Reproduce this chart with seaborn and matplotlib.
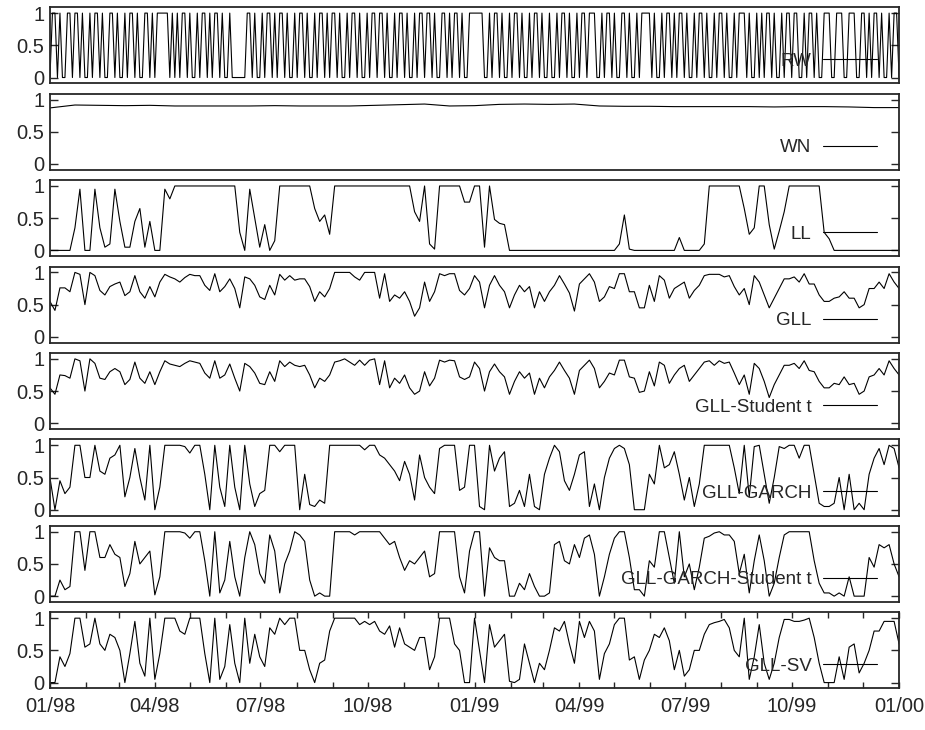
import numpy as np
import pandas as pd
import seaborn as sns
import matplotlib
matplotlib.use("Agg")
import matplotlib.pyplot as plt
import matplotlib.dates as mdates

rw_bits = ("0110100110110100101101001101001011010011010111110"
           "10101101001011010110100100000011010010110101101001"
           "01101001011010110100101101001011011010010110100101"
           "10110100110101101001111110010110100101101001011010"
           "01001011010010110111001011010011010010111101001011"
           "01011010010110100101101001011101001010110100101101"
           "100101101001110011100111001101011010010110")
rw = [int(c) for c in rw_bits]

wn = [0.87, 0.915, 0.91, 0.905, 0.91, 0.9, 0.9, 0.9, 0.9, 0.905,
      0.9, 0.9, 0.9, 0.91, 0.92, 0.93, 0.9, 0.905, 0.925, 0.93,
      0.925, 0.93, 0.9, 0.895, 0.895, 0.89, 0.89, 0.89, 0.89, 0.885,
      0.89, 0.89, 0.885, 0.875, 0.875]

ll = [0, 0, 0, 0, 0, 0.35, 0.95, 0, 0, 0.95,
      0.35, 0.05, 0.1, 0.95, 0.45, 0.05, 0.05, 0.45, 0.65, 0.05,
      0.45, 0, 0, 0.95, 0.8, 1, 1, 1, 1, 1,
      1, 1, 1, 1, 1, 1, 1, 1, 0.28, 0,
      0.95, 0.5, 0.05, 0.4, 0, 0.15, 1, 1, 1, 1,
      1, 1, 1, 0.65, 0.45, 0.55, 0.25, 1, 1, 1,
      1, 1, 1, 1, 1, 1, 1, 1, 1, 1,
      1, 1, 1, 0.6, 0.45, 1, 0.1, 0.02, 1, 1,
      1, 1, 1, 0.75, 0.75, 1, 1, 0.05, 1, 0.48,
      0.42, 0.4, 0, 0, 0, 0, 0, 0, 0, 0,
      0, 0, 0, 0, 0, 0, 0, 0, 0, 0,
      0, 0, 0, 0, 0.1, 0.55, 0.02, 0, 0, 0,
      0, 0, 0, 0, 0, 0, 0.2, 0, 0, 0,
      0, 0.1, 1, 1, 1, 1, 1, 1, 1, 0.65,
      0.25, 0.35, 1, 1, 0.4, 0.02, 0.3, 0.6, 1, 1,
      1, 1, 1, 1, 1, 0.28, 0.18, 0, 0, 0,
      0, 0, 0, 0, 0, 0, 0, 0, 0, 0,
      0]

gll = [0.55, 0.41, 0.76, 0.76, 0.7, 1.0, 0.97, 0.5, 1.0, 0.95,
       0.72, 0.65, 0.78, 0.82, 0.85, 0.64, 0.7, 0.95, 0.7, 0.6,
       0.78, 0.62, 0.85, 0.97, 0.93, 0.9, 0.85, 0.92, 0.97, 0.95,
       0.95, 0.8, 0.72, 0.98, 0.7, 0.78, 0.9, 0.75, 0.45, 0.93,
       0.9, 0.8, 0.62, 0.58, 0.8, 0.65, 0.97, 0.88, 0.95, 0.88,
       0.9, 0.9, 0.78, 0.55, 0.7, 0.62, 0.75, 1.0, 1.0, 1.0,
       1.0, 0.93, 0.88, 1.0, 1.0, 1.0, 0.6, 0.98, 0.55, 0.65,
       0.6, 0.7, 0.55, 0.32, 0.45, 0.85, 0.55, 0.7, 0.98, 0.95,
       0.98, 0.98, 0.72, 0.65, 0.75, 0.95, 0.85, 0.45, 0.8, 0.95,
       0.8, 0.7, 0.45, 0.65, 0.8, 0.7, 0.78, 0.45, 0.7, 0.55,
       0.7, 0.8, 0.95, 0.82, 0.68, 0.4, 0.82, 0.9, 0.98, 0.85,
       0.55, 0.62, 0.78, 0.75, 0.98, 0.98, 0.7, 0.7, 0.45, 0.45,
       0.8, 0.55, 0.95, 0.88, 0.6, 0.75, 0.8, 0.85, 0.6, 0.72,
       0.8, 0.95, 0.97, 0.97, 0.97, 0.93, 0.95, 0.78, 0.65, 0.75,
       0.5, 0.95, 0.85, 0.65, 0.45, 0.6, 0.75, 0.9, 0.9, 0.93,
       0.85, 0.98, 0.82, 0.82, 0.65, 0.55, 0.55, 0.6, 0.62, 0.7,
       0.6, 0.6, 0.45, 0.5, 0.75, 0.75, 0.85, 0.75, 0.98, 0.85,
       0.75]

gll_t = [0.55, 0.45, 0.75, 0.74, 0.7, 1.0, 0.97, 0.5, 1.0, 0.93,
         0.7, 0.68, 0.8, 0.85, 0.8, 0.6, 0.68, 0.95, 0.7, 0.62,
         0.8, 0.6, 0.8, 0.97, 0.92, 0.9, 0.88, 0.93, 0.97, 0.95,
         0.93, 0.78, 0.7, 0.97, 0.7, 0.75, 0.92, 0.7, 0.5, 0.93,
         0.88, 0.78, 0.62, 0.6, 0.8, 0.65, 0.97, 0.88, 0.95, 0.9,
         0.88, 0.9, 0.75, 0.55, 0.7, 0.65, 0.75, 0.95, 0.97, 1.0,
         0.95, 0.9, 0.98, 0.9, 0.98, 1.0, 0.6, 0.97, 0.55, 0.7,
         0.62, 0.75, 0.55, 0.45, 0.5, 0.8, 0.58, 0.7, 0.98, 0.95,
         0.98, 0.97, 0.72, 0.68, 0.72, 0.95, 0.85, 0.5, 0.8, 0.92,
         0.8, 0.72, 0.45, 0.65, 0.8, 0.7, 0.78, 0.45, 0.7, 0.55,
         0.72, 0.82, 0.95, 0.82, 0.7, 0.45, 0.82, 0.9, 0.98, 0.85,
         0.55, 0.65, 0.78, 0.75, 0.98, 0.98, 0.72, 0.7, 0.48, 0.5,
         0.8, 0.58, 0.95, 0.9, 0.62, 0.75, 0.85, 0.9, 0.65, 0.75,
         0.85, 0.95, 0.97, 0.9, 0.97, 0.93, 0.95, 0.78, 0.6, 0.75,
         0.45, 0.93, 0.85, 0.65, 0.4, 0.6, 0.75, 0.9, 0.9, 0.93,
         0.85, 0.97, 0.82, 0.8, 0.65, 0.55, 0.55, 0.62, 0.6, 0.72,
         0.6, 0.62, 0.45, 0.5, 0.72, 0.75, 0.85, 0.75, 0.97, 0.85,
         0.75]

gll_garch = [0.5, 0, 0.45, 0.25, 0.35, 1.0, 1.0, 0.5, 0.5, 1.0,
             0.6, 0.55, 0.8, 0.85, 1.0, 0.2, 0.5, 0.95, 0.5, 0.15,
             1.0, 0.0, 0.35, 1.0, 1.0, 1.0, 1.0, 0.98, 0.88, 1.0,
             1.0, 0.55, 0.0, 1.0, 0.35, 0.05, 1.0, 0.35, 0.0, 1.0,
             0.4, 0.05, 0.25, 0.3, 1.0, 1.0, 0.9, 1.0, 1.0, 1.0,
             0.0, 0.55, 0.08, 0.05, 0.15, 0.1, 1.0, 1.0, 1.0, 1.0,
             1.0, 1.0, 1.0, 0.93, 1.0, 1.0, 0.85, 0.8, 0.7, 0.6,
             0.45, 0.75, 0.55, 0.15, 0.85, 0.5, 0.35, 0.25, 0.95, 1.0,
             1.0, 1.0, 0.3, 0.35, 1.0, 1.0, 0.05, 0.0, 1.0, 0.6,
             0.8, 0.9, 0.05, 0.1, 0.3, 0.05, 0.55, 0.05, 0.0, 0.55,
             0.8, 1.0, 0.9, 0.45, 0.3, 0.55, 0.85, 0.9, 0.05, 0.4,
             0.0, 0.5, 0.8, 0.95, 1.0, 0.95, 0.7, 0.0, 0.0, 0.0,
             0.55, 0.4, 1.0, 0.65, 0.7, 0.9, 0.55, 0.15, 0.5, 0.05,
             0.4, 1.0, 1.0, 1.0, 1.0, 1.0, 1.0, 0.65, 0.25, 1.0,
             0.2, 0.98, 1.0, 0.55, 0.1, 0.5, 0.98, 0.95, 1.0, 1.0,
             0.8, 1.0, 1.0, 0.55, 0.1, 0.05, 0.05, 0.1, 0.5, 0.0,
             0.55, 0.0, 0.1, 0.0, 0.55, 0.8, 0.95, 0.7, 1.0, 0.95,
             0.65]

gll_garch_t = [0, 0, 0.25, 0.1, 0.15, 1.0, 1.0, 0.4, 1.0, 1.0,
               0.6, 0.6, 0.8, 0.65, 0.6, 0.15, 0.35, 0.85, 0.5, 0.6,
               0.7, 0.02, 0.3, 1.0, 1.0, 1.0, 1.0, 0.98, 0.9, 1.0,
               1.0, 0.55, 0.0, 1.0, 0.05, 0.25, 0.85, 0.3, 0.0, 0.6,
               1.0, 0.8, 0.35, 0.2, 0.95, 0.7, 0.05, 0.5, 0.7, 1.0,
               0.95, 0.85, 0.25, 0.0, 0.05, 0.0, 0.0, 1.0, 1.0, 1.0,
               1.0, 0.95, 1.0, 1.0, 1.0, 1.0, 1.0, 0.9, 0.8, 0.85,
               0.6, 0.4, 0.55, 0.5, 0.6, 0.7, 0.3, 0.35, 1.0, 1.0,
               1.0, 1.0, 0.3, 0.05, 0.7, 1.0, 1.0, 0.0, 0.75, 0.6,
               0.55, 0.55, 0.0, 0.0, 0.2, 0.1, 0.35, 0.15, 0.0, 0.0,
               0.05, 0.8, 0.85, 0.55, 0.5, 0.8, 0.6, 0.9, 0.95, 0.65,
               0.0, 0.3, 0.65, 0.9, 1.0, 1.0, 0.6, 0.1, 0.1, 0.0,
               0.55, 0.45, 1.0, 1.0, 0.6, 0.2, 1.0, 0.3, 0.5, 0.1,
               0.45, 0.9, 0.93, 0.98, 1.0, 0.95, 0.95, 0.85, 0.35, 0.65,
               0.05, 0.55, 0.95, 0.55, 0.0, 0.2, 0.6, 0.95, 1.0, 1.0,
               1.0, 1.0, 1.0, 0.55, 0.2, 0.05, 0.05, 0.0, 0.05, 0.0,
               0.3, 0.0, 0.0, 0.0, 0.6, 0.45, 0.8, 0.75, 0.8, 0.5,
               0.3]

gll_sv = [0, 0, 0.4, 0.25, 0.45, 1.0, 1.0, 0.55, 0.6, 1.0,
          0.6, 0.5, 0.75, 0.7, 0.5, 0.0, 0.45, 0.95, 0.3, 0.1,
          1.0, 0.05, 0.45, 1.0, 1.0, 1.0, 0.8, 0.75, 1.0, 1.0,
          1.0, 0.45, 0.0, 1.0, 0.05, 0.25, 0.9, 0.3, 0.0, 1.0,
          0.3, 0.75, 0.4, 0.25, 0.85, 0.75, 1.0, 0.9, 1.0, 1.0,
          0.5, 0.5, 0.2, 0.0, 0.3, 0.35, 0.8, 1.0, 1.0, 1.0,
          1.0, 1.0, 0.9, 0.95, 0.9, 0.95, 0.8, 0.75, 0.88, 0.55,
          0.85, 0.6, 0.55, 0.5, 0.7, 0.7, 0.2, 0.4, 1.0, 1.0,
          1.0, 0.6, 0.5, 0.0, 0.0, 1.0, 0.5, 0.0, 0.9, 0.55,
          0.65, 0.75, 0.02, 0.0, 0.05, 0.6, 0.3, 0.0, 0.3, 0.2,
          0.5, 0.85, 0.8, 0.95, 0.6, 0.3, 0.95, 0.7, 0.95, 0.8,
          0.05, 0.45, 0.6, 0.9, 1.0, 1.0, 0.35, 0.4, 0.05, 0.35,
          0.5, 0.75, 0.7, 0.85, 0.65, 0.2, 0.5, 0.1, 0.2, 0.5,
          0.5, 0.75, 0.9, 0.93, 0.95, 0.98, 0.85, 0.5, 0.4, 1.0,
          0.05, 0.4, 0.9, 0.3, 0.05, 0.3, 0.7, 0.98, 0.98, 0.95,
          0.95, 0.97, 1.0, 0.7, 0.3, 0.0, 0.0, 0.0, 0.4, 0.05,
          0.55, 0.6, 0.15, 0.3, 0.5, 0.8, 0.8, 0.95, 0.95, 0.95,
          0.6]

names = ["RW", "WN", "LL", "GLL", "GLL-Student t", "GLL-GARCH",
         "GLL-GARCH-Student t", "GLL-SV"]
series = [rw, wn, ll, gll, gll_t, gll_garch, gll_garch_t, gll_sv]

sns.set_style("ticks")
plt.rcParams["font.family"] = ["Liberation Sans", "DejaVu Sans"]

fig, axes = plt.subplots(8, 1, figsize=(9.25, 7.3), dpi=100, sharex=True)
fig.subplots_adjust(left=0.054, right=0.972, top=0.990, bottom=0.057, hspace=0.137)

start, end = pd.Timestamp("1998-01-01"), pd.Timestamp("2000-01-01")

for ax, name, vals in zip(axes, names, series):
    dates = pd.date_range(start, end, periods=len(vals))
    sns.lineplot(x=dates, y=vals, ax=ax, color="black", lw=0.8, label=name)
    ax.set_ylim(-0.09, 1.09)
    ax.set_yticks([0, 0.5, 1])
    ax.set_yticklabels(["0", "0.5", "1"])
    ax.set_ylabel("")
    ax.set_xlabel("")
    ax.tick_params(axis="y", direction="in", right=True, length=6, width=1,
                   labelsize=14.5, pad=4)
    ax.tick_params(axis="x", which="both", length=0)
    for s in ax.spines.values():
        s.set_linewidth(1.3)
    ax.legend(loc="center right", bbox_to_anchor=(0.974, 0.29), frameon=False,
              markerfirst=False, handlelength=2.9, handletextpad=0.6,
              borderpad=0, borderaxespad=0, fontsize=13.5)

ax = axes[-1]
ax.set_xlim(start, end)
ax.xaxis.set_major_locator(mdates.MonthLocator(bymonth=[1, 4, 7, 10]))
ax.xaxis.set_minor_locator(mdates.MonthLocator())
ax.xaxis.set_major_formatter(mdates.DateFormatter("%m/%y"))
ax.tick_params(axis="x", which="both", direction="in", top=True, bottom=True,
               length=4, width=1, labelsize=14.5, pad=6)

fig.savefig("out.png", dpi=100)
